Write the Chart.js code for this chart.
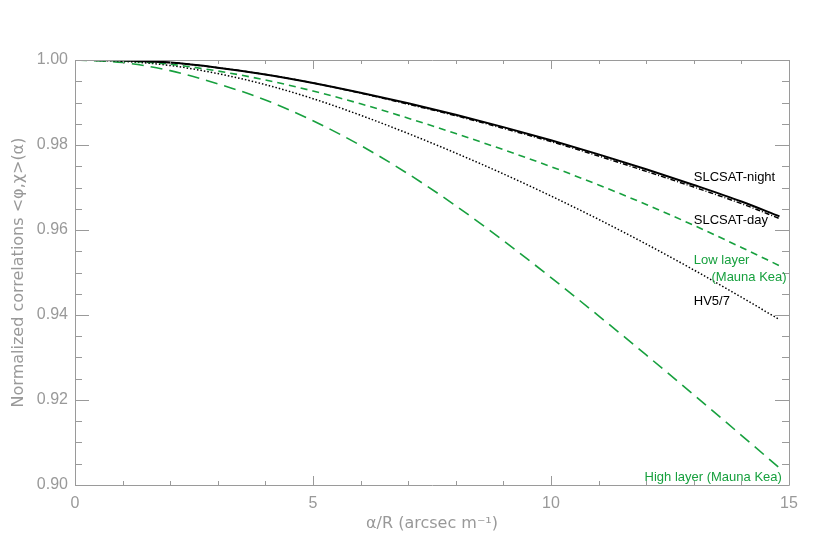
<!DOCTYPE html>
<html>
<head>
<meta charset="utf-8">
<script src="https://cdn.jsdelivr.net/npm/chart.js@4.4.0/dist/chart.umd.min.js"></script>
<style>
  html, body { margin: 0; padding: 0; background: #fff; }
  #wrap { width: 817px; height: 545px; }
</style>
</head>
<body>
<div id="wrap"><canvas id="corrChart"></canvas></div>
<script>
// Valores (alpha/R en arcsec m^-1)
const alphaR = [0, 1, 2, 3, 4, 5, 6, 7, 8, 9, 10, 11, 12, 13, 14, 14.8];
const slcsatNight = [1.0000, 0.9999, 0.9994, 0.9982, 0.9966, 0.9946, 0.9923, 0.9898, 0.9871, 0.9842, 0.9811, 0.9778, 0.9743, 0.9706, 0.9667, 0.9632];
const slcsatDay   = [1.0000, 0.9999, 0.9994, 0.9982, 0.9966, 0.9946, 0.9922, 0.9896, 0.9869, 0.9839, 0.9808, 0.9774, 0.9738, 0.9701, 0.9662, 0.9627];
const lowLayer    = [1.0000, 0.9998, 0.9990, 0.9974, 0.9953, 0.9927, 0.9897, 0.9863, 0.9827, 0.9789, 0.9749, 0.9706, 0.9660, 0.9611, 0.9559, 0.9516];
const hv57        = [1.0000, 0.9997, 0.9987, 0.9968, 0.9942, 0.9909, 0.9870, 0.9827, 0.9781, 0.9732, 0.9680, 0.9625, 0.9567, 0.9506, 0.9442, 0.9389];
const highLayer   = [1.0000, 0.9994, 0.9975, 0.9944, 0.9906, 0.9857, 0.9799, 0.9732, 0.9657, 0.9575, 0.9488, 0.9398, 0.9306, 0.9212, 0.9117, 0.9040];

const xTickLabels = [0, 5, 10, 15];
const yTickLabels = [0.90, 0.92, 0.94, 0.96, 0.98, 1.00];

const green = '#17a03e';
const axisGray = '#9a9a9a';
const textGray = '#999999';

// Etiquetas de las curvas (ancla en coordenadas de datos)
const curveLabels = [
    { text: 'SLCSAT-night', x: 13.0, y: 0.9723, color: '#000', align: 'left' },
    { text: 'SLCSAT-day', x: 13.0, y: 0.9622, color: '#000', align: 'left' },
    { text: 'Low layer', x: 13.0, y: 0.9529, color: green, align: 'left' },
    { text: '(Mauna Kea)', x: 14.95, y: 0.9489, color: green, align: 'right' },
    { text: 'HV5/7', x: 13.0, y: 0.9431, color: '#000', align: 'left' },
    { text: 'High layer (Mauna Kea)', x: 14.85, y: 0.9017, color: green, align: 'right' }
];

function toPoints(ys) {
    return alphaR.map((x, i) => ({ x, y: ys[i] }));
}

// Marco con marcas hacia dentro (estilo IDL) y etiquetas de las curvas
const idlFrame = {
    id: 'idlFrame',
    afterDatasetsDraw(chart) {
        const { ctx, chartArea: { left, right, top, bottom }, scales: { x, y } } = chart;
        ctx.save();
        ctx.strokeStyle = axisGray;
        ctx.lineWidth = 1;
        ctx.beginPath();
        ctx.rect(Math.round(left) + 0.5, Math.round(top) + 0.5, Math.round(right - left), Math.round(bottom - top));
        ctx.stroke();

        ctx.beginPath();
        x.ticks.forEach(t => {
            const px = Math.round(x.getPixelForValue(t.value)) + 0.5;
            const len = xTickLabels.includes(t.value) ? 9 : 4;
            ctx.moveTo(px, bottom); ctx.lineTo(px, bottom - len);
            ctx.moveTo(px, top); ctx.lineTo(px, top + len);
        });
        y.ticks.forEach(t => {
            const py = Math.round(y.getPixelForValue(t.value)) + 0.5;
            const major = yTickLabels.some(v => Math.abs(v - t.value) < 1e-6);
            const len = major ? 14 : 7;
            ctx.moveTo(left, py); ctx.lineTo(left + len, py);
            ctx.moveTo(right, py); ctx.lineTo(right - len, py);
        });
        ctx.stroke();

        ctx.font = '13px "Liberation Sans", Arial, sans-serif';
        ctx.textBaseline = 'middle';
        curveLabels.forEach(l => {
            ctx.fillStyle = l.color;
            ctx.textAlign = l.align;
            ctx.fillText(l.text, x.getPixelForValue(l.x), y.getPixelForValue(l.y));
        });
        ctx.restore();
    }
};

const ctx = document.getElementById('corrChart').getContext('2d');

new Chart(ctx, {
    type: 'line',
    data: {
        datasets: [
            {
                label: 'SLCSAT-night',
                data: toPoints(slcsatNight),
                borderColor: '#000',
                borderWidth: 2,
                pointRadius: 0,
                cubicInterpolationMode: 'monotone'
            },
            {
                label: 'SLCSAT-day',
                data: toPoints(slcsatDay),
                borderColor: '#000',
                borderWidth: 1.5,
                borderDash: [5, 2, 1, 2],
                pointRadius: 0,
                cubicInterpolationMode: 'monotone'
            },
            {
                label: 'Low layer (Mauna Kea)',
                data: toPoints(lowLayer),
                borderColor: green,
                borderWidth: 1.6,
                borderDash: [7, 5],
                pointRadius: 0,
                cubicInterpolationMode: 'monotone'
            },
            {
                label: 'HV5/7',
                data: toPoints(hv57),
                borderColor: '#000',
                borderWidth: 1.5,
                borderDash: [1.5, 2],
                pointRadius: 0,
                cubicInterpolationMode: 'monotone'
            },
            {
                label: 'High layer (Mauna Kea)',
                data: toPoints(highLayer),
                borderColor: green,
                borderWidth: 1.6,
                borderDash: [12, 7],
                pointRadius: 0,
                cubicInterpolationMode: 'monotone'
            }
        ]
    },
    options: {
        responsive: true,
        maintainAspectRatio: false,
        animation: false,
        layout: {
            padding: { top: 60, right: 28, bottom: 0, left: 0 }
        },
        plugins: {
            legend: { display: false },
            tooltip: { enabled: false }
        },
        scales: {
            x: {
                type: 'linear',
                min: 0,
                max: 15,
                afterFit: s => { s.height = 60; },
                grid: { display: false, drawTicks: false },
                border: { display: false },
                ticks: {
                    stepSize: 1,
                    autoSkip: false,
                    maxRotation: 0,
                    padding: 9,
                    color: textGray,
                    font: { family: '"Liberation Sans", Arial, sans-serif', size: 16 },
                    callback: v => xTickLabels.includes(v) ? String(v) : ''
                },
                title: {
                    display: true,
                    text: 'α/R (arcsec m⁻¹)',
                    color: textGray,
                    padding: { top: 0, bottom: 12 },
                    font: { family: '"DejaVu Sans", sans-serif', size: 16 }
                }
            },
            y: {
                min: 0.9,
                max: 1.0,
                afterFit: s => { s.width = 75; },
                grid: { display: false, drawTicks: false },
                border: { display: false },
                ticks: {
                    stepSize: 0.005,
                    autoSkip: false,
                    padding: 7,
                    color: textGray,
                    font: { family: '"Liberation Sans", Arial, sans-serif', size: 16 },
                    callback: v => yTickLabels.some(t => Math.abs(t - v) < 1e-6) ? v.toFixed(2) : ''
                },
                title: {
                    display: true,
                    text: 'Normalized correlations <φ,χ>(α)',
                    color: textGray,
                    padding: { top: 9, bottom: 0 },
                    font: { family: '"DejaVu Sans", sans-serif', size: 16 }
                }
            }
        }
    },
    plugins: [idlFrame]
});
</script>
</body>
</html>
